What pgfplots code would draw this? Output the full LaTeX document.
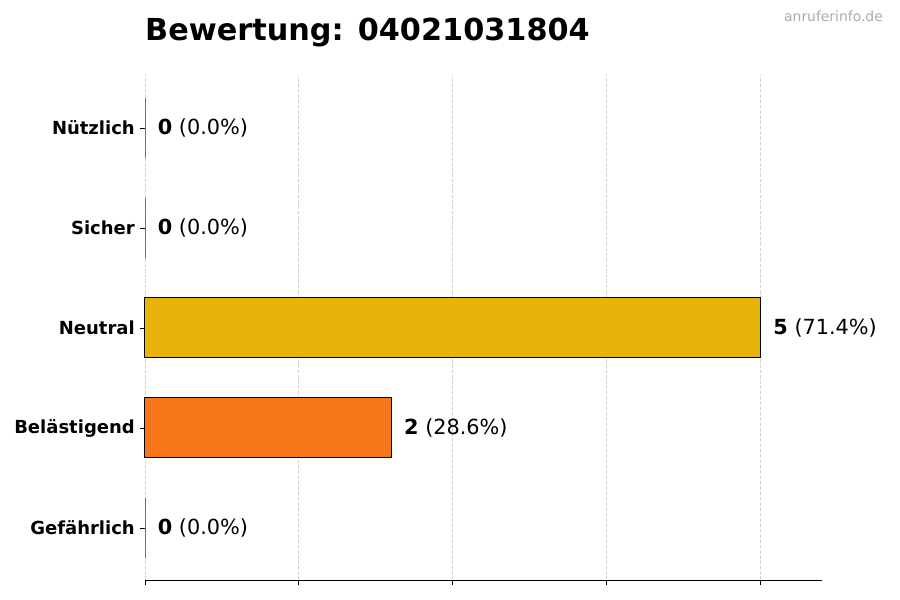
\documentclass[border=0pt]{standalone}
\usepackage{pgfplots}
\pgfplotsset{compat=1.18}
\usepackage{fontspec}
\setmainfont{DejaVu Sans}
\definecolor{neutralc}{HTML}{E8B40B}
\definecolor{belc}{HTML}{F8771A}
\definecolor{wmgray}{HTML}{AAAAAA}
\begin{document}
\begin{tikzpicture}[x=1pt,y=1pt]
\path[use as bounding box] (0pt,0pt) rectangle (900pt,600pt);
\begin{axis}[
  at={(145pt,20pt)}, anchor=south west,
  scale only axis, width=677pt, height=505pt,
  xmin=0, xmax=5.5, ymin=-0.52, ymax=4.53,
  xbar, bar width=0.6, bar shift=0pt,
  axis line style={draw=none},
  xtick={0,1.25,2.5,3.75,5}, xticklabels={},
  ytick={0,1,2,3,4},
  yticklabels={Gefährlich,Belästigend,Neutral,Sicher,Nützlich},
  xtick pos=bottom, ytick pos=left, tick align=outside,
  major tick length=5pt,
  tick style={black, line width=0.8pt},
  yticklabel style={font=\fontsize{18}{21}\selectfont\bfseries, inner sep=0pt, xshift=-5pt},
  xmajorgrids,
  major grid style={draw=black!17, line width=0.8pt, dash pattern=on 3.7pt off 1.6pt},
  point meta=explicit symbolic,
  nodes near coords,
  nodes near coords style={anchor=west, inner sep=0pt, xshift=12.5pt, font=\fontsize{20.8}{24}\selectfont, text=black},
  every axis plot/.append style={draw=black, line width=1pt},
  clip=false,
]
\addplot[fill=neutralc] coordinates {(5,2) [\textbf{5} (71.4\%)]};
\addplot[fill=belc] coordinates {(2,1) [\textbf{2} (28.6\%)]};
\addplot[fill=white, draw=black!80, line width=0.8pt] coordinates {(0,4) [\textbf{0} (0.0\%)] (0,3) [\textbf{0} (0.0\%)] (0,0) [\textbf{0} (0.0\%)]};
\draw[black, line width=1pt] (rel axis cs:0,0) -- (rel axis cs:1,0);
\end{axis}
\node[anchor=base west, inner sep=0pt, font=\fontsize{30.3}{36}\selectfont\bfseries] at (145pt,559pt) {Bewertung: 04021031804};
\node[anchor=base east, inner sep=0pt, font=\fontsize{13.9}{16}\selectfont, text=wmgray] at (883pt,578pt) {anruferinfo.de};
\end{tikzpicture}
\end{document}
